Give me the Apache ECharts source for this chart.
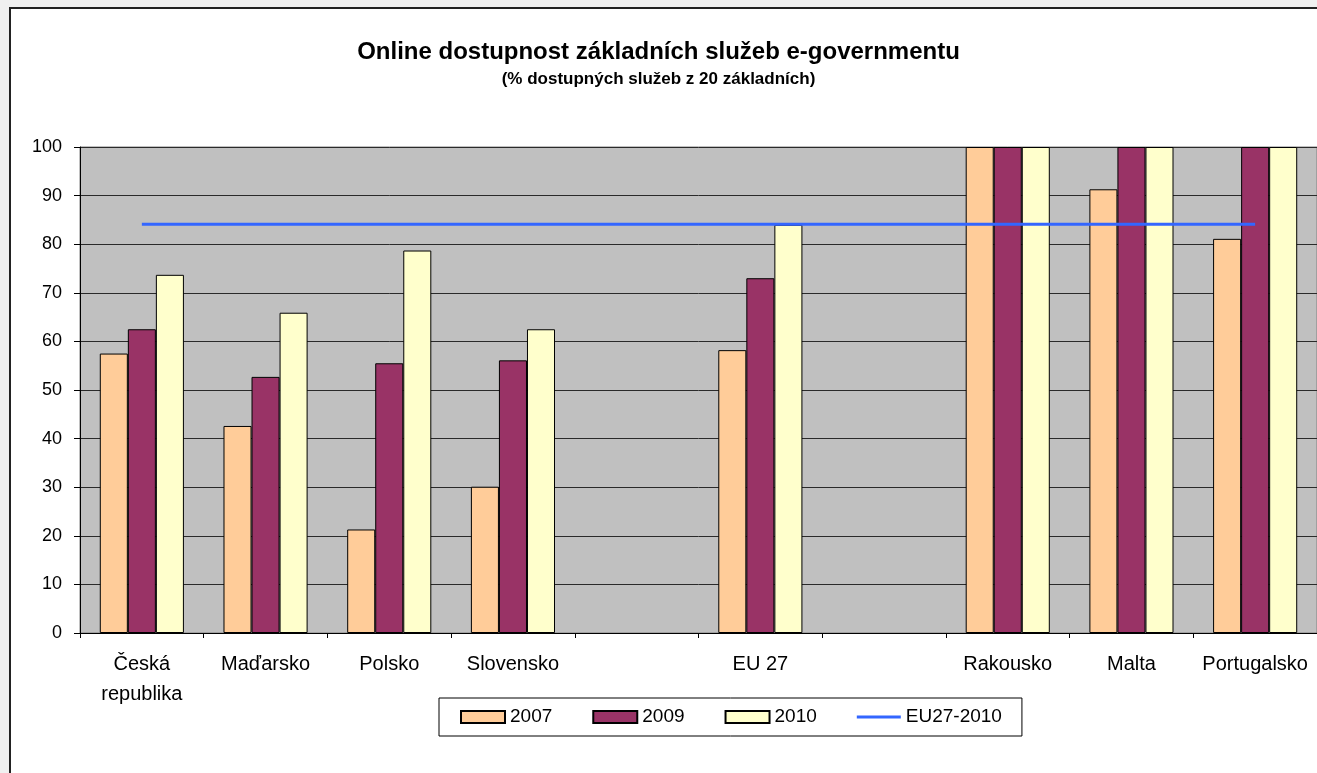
<!DOCTYPE html>
<html>
<head>
<meta charset="utf-8">
<script src="https://cdn.jsdelivr.net/npm/echarts@6/dist/echarts.min.js"></script>
<style>
    html, body { margin: 0; padding: 0; background: #f0f0f0; overflow: hidden; }
    #frame { position: absolute; left: 9px; top: 7px; width: 1400px; height: 900px; background: #fff; border-left: 2px solid #222; border-top: 2px solid #222; }
    #main { position: absolute; left: 0; top: 0; width: 1317px; height: 773px; }
</style>
</head>
<body>
<div id="frame"></div>
<div id="main"></div>
<script>
// Data
const categories = ['Česká\nrepublika', 'Maďarsko', 'Polsko', 'Slovensko', '', 'EU 27', '', 'Rakousko', 'Malta', 'Portugalsko'];
const values2007 = [57.5, 42.6, 21.3, 30.1, '-', 58.2, '-', 100, 91.3, 81.1];
const values2009 = [62.5, 52.7, 55.5, 56.1, '-', 73.0, '-', 100, 100, 100];
const values2010 = [73.7, 65.9, 78.7, 62.5, '-', 84.0, '-', 100, 100, 100];
const eu2010 = [84.1, 84.1, 84.1, 84.1, 84.1, 84.1, 84.1, 84.1, 84.1, 84.1];
const yTicks = { min: 0, max: 100, interval: 10 };

const chart = echarts.init(document.getElementById('main'));

const barStyle = color => ({ color: color, borderColor: '#000', borderWidth: 1 });

chart.setOption({
    textStyle: { fontFamily: 'Liberation Sans, Arial, sans-serif', color: '#000' },
    title: {
        text: 'Online dostupnost základních služeb e-governmentu',
        subtext: '(% dostupných služeb z 20 základních)',
        left: 'center',
        top: 35,
        itemGap: 7,
        textStyle: { fontSize: 24, fontWeight: 'bold', color: '#000' },
        subtextStyle: { fontSize: 17, fontWeight: 'bold', color: '#000' }
    },
    legend: {
        left: 439,
        top: 698,
        orient: 'horizontal',
        padding: [9, 20, 9, 21],
        borderColor: '#000',
        borderWidth: 1,
        itemWidth: 44,
        itemHeight: 12,
        itemGap: 40,
        textStyle: { fontSize: 19, lineHeight: 20, color: '#000' },
        data: [
            { name: '2007', icon: 'rect' },
            { name: '2009', icon: 'rect' },
            { name: '2010', icon: 'rect' },
            { name: 'EU27-2010', icon: 'path://M0,0 M0,12 M0,4.6 L44,4.6 L44,7.4 L0,7.4 Z', itemStyle: { color: '#3366FF', borderWidth: 0 } }
        ]
    },
    grid: {
        left: 80,
        right: -4,
        top: 147,
        bottom: 140,
        show: true,
        backgroundColor: '#C0C0C0',
        borderColor: '#808080',
        borderWidth: 1
    },
    xAxis: {
        type: 'category',
        data: categories,
        axisLine: { lineStyle: { color: '#000', width: 1 } },
        axisTick: { show: true, interval: 0, length: 5, lineStyle: { color: '#000' } },
        axisLabel: { interval: 0, fontSize: 20, color: '#000', margin: 16, lineHeight: 30 }
    },
    yAxis: {
        type: 'value',
        min: yTicks.min,
        max: yTicks.max,
        interval: yTicks.interval,
        axisLine: { show: true, lineStyle: { color: '#000' } },
        axisTick: { show: true, length: 6, lineStyle: { color: '#000' } },
        axisLabel: { fontSize: 18, color: '#000', margin: 18 },
        splitLine: { lineStyle: { color: '#2a2a2a', width: 1 } }
    },
    series: [
        { name: '2007', type: 'bar', data: values2007, barGap: '0%', barCategoryGap: '32%', itemStyle: barStyle('#FFCC99') },
        { name: '2009', type: 'bar', data: values2009, itemStyle: barStyle('#993366') },
        { name: '2010', type: 'bar', data: values2010, itemStyle: barStyle('#FFFFCC') },
        {
            name: 'EU27-2010',
            type: 'line',
            data: eu2010,
            symbol: 'none',
            z: 5,
            lineStyle: { color: '#3366FF', width: 3 },
            itemStyle: { color: '#3366FF' }
        }
    ]
});

window.addEventListener('resize', () => chart.resize());
</script>
</body>
</html>
